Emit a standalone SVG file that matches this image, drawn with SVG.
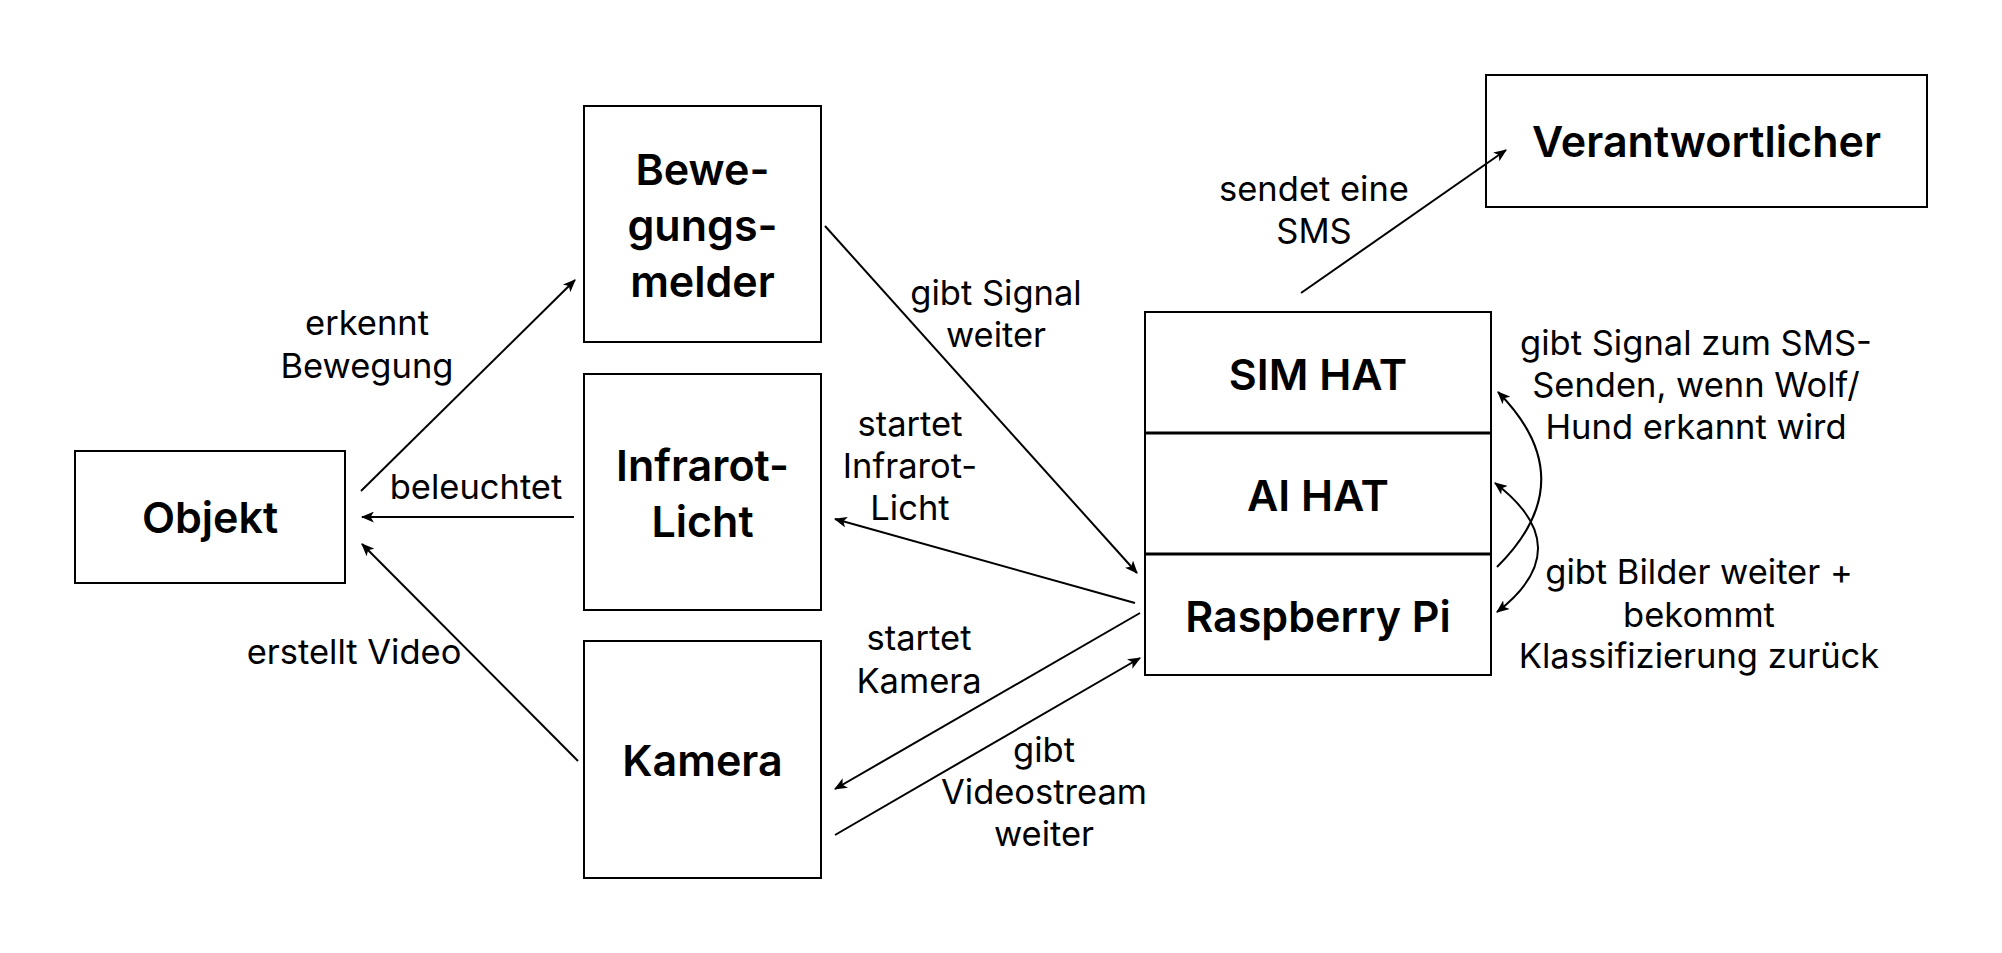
<svg xmlns="http://www.w3.org/2000/svg" width="2002" height="953" viewBox="0 0 2002 953">
<defs>
<style>
.box{fill:#fff;stroke:#000;stroke-width:2}
.div{stroke:#000;stroke-width:3}
.node{font-family:Inter,"Liberation Sans",sans-serif;font-weight:600;font-size:43px;text-anchor:middle;fill:#000}
.lbl{font-family:Inter,"Liberation Sans",sans-serif;font-size:34.5px;text-anchor:middle;fill:#000}
.c{fill:none;stroke:#000;stroke-width:2;marker-end:url(#ah)}
.c2{fill:none;stroke:#000;stroke-width:2;marker-end:url(#ah);marker-start:url(#ah)}
</style>
<marker id="ah" viewBox="0 0 12 10" refX="11" refY="5" markerWidth="13" markerHeight="11" markerUnits="userSpaceOnUse" orient="auto-start-reverse">
<path d="M0,0 L12,5 L0,10 L3,5 z" fill="#000"/>
</marker>
</defs>
<g id="objekt">
<rect class="box" x="75" y="451" width="270" height="132"/>
<text class="node" x="210" y="533">Objekt</text>
</g>
<g id="bewegungsmelder">
<rect class="box" x="584" y="106" width="237" height="236"/>
<text class="node" x="702.5" y="185">Bewe-</text>
<text class="node" x="702.5" y="241">gungs-</text>
<text class="node" x="702.5" y="297">melder</text>
</g>
<g id="infrarot">
<rect class="box" x="584" y="374" width="237" height="236"/>
<text class="node" x="702.5" y="481">Infrarot-</text>
<text class="node" x="702.5" y="537">Licht</text>
</g>
<g id="kamera">
<rect class="box" x="584" y="641" width="237" height="237"/>
<text class="node" x="702.5" y="776">Kamera</text>
</g>
<g id="verantwortlicher">
<rect class="box" x="1486" y="75" width="441" height="132"/>
<text class="node" x="1706.5" y="157">Verantwortlicher</text>
</g>
<g id="stack">
<rect class="box" x="1145" y="312" width="346" height="363"/>
<line class="div" x1="1145" y1="433" x2="1491" y2="433"/>
<line class="div" x1="1145" y1="554" x2="1491" y2="554"/>
<text class="node" x="1318" y="390">SIM HAT</text>
<text class="node" x="1318" y="511">AI HAT</text>
<text class="node" x="1318" y="632">Raspberry Pi</text>
</g>
<g id="connectors">
<path class="c" d="M361,491 L575,280"/>
<path class="c" d="M574,517 L362,517"/>
<path class="c" d="M578,761 L362,544"/>
<path class="c" d="M825,226 L1137,573"/>
<path class="c" d="M1135,603 L835,519"/>
<path class="c" d="M1140,613 L835,789"/>
<path class="c" d="M835,835 L1140,658"/>
<path class="c" d="M1301,293 L1506,150"/>
<path class="c" d="M1497,567 Q1585,480 1498,392"/>
<path class="c2" d="M1495,483 Q1580,548 1497,612"/>
<text class="lbl" x="367" y="335">erkennt</text>
<text class="lbl" x="367" y="378">Bewegung</text>
<text class="lbl" x="476" y="499">beleuchtet</text>
<text class="lbl" x="354" y="664">erstellt Video</text>
<text class="lbl" x="996" y="305">gibt Signal</text>
<text class="lbl" x="996" y="347">weiter</text>
<text class="lbl" x="910" y="436">startet</text>
<text class="lbl" x="910" y="478">Infrarot-</text>
<text class="lbl" x="910" y="520">Licht</text>
<text class="lbl" x="919" y="650">startet</text>
<text class="lbl" x="919" y="693">Kamera</text>
<text class="lbl" x="1044" y="762">gibt</text>
<text class="lbl" x="1044" y="804">Videostream</text>
<text class="lbl" x="1044" y="846">weiter</text>
<text class="lbl" x="1314" y="201">sendet eine</text>
<text class="lbl" x="1314" y="243">SMS</text>
<text class="lbl" x="1696" y="355">gibt Signal zum SMS-</text>
<text class="lbl" x="1696" y="397">Senden, wenn Wolf/</text>
<text class="lbl" x="1696" y="439">Hund erkannt wird</text>
<text class="lbl" x="1699" y="584">gibt Bilder weiter +</text>
<text class="lbl" x="1699" y="627">bekommt</text>
<text class="lbl" x="1699" y="668">Klassifizierung zurück</text>
</g>
</svg>
